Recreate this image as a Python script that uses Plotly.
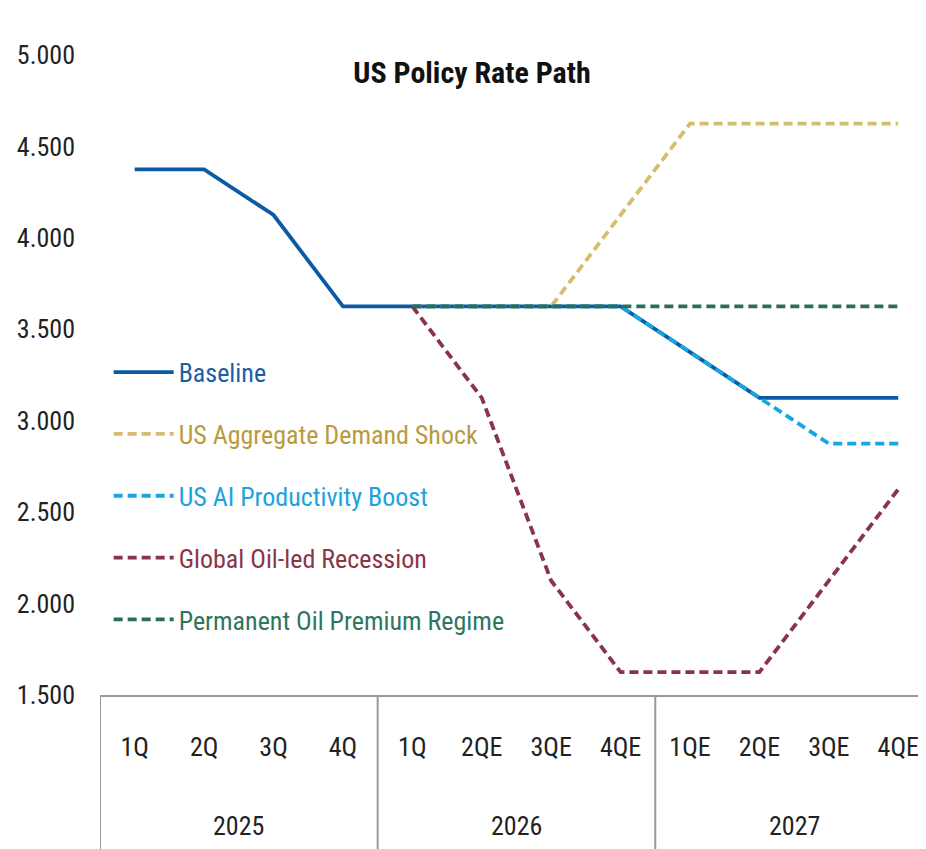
import plotly.graph_objects as go

years = ["2025"] * 4 + ["2026"] * 4 + ["2027"] * 4
quarters = ["1Q", "2Q", "3Q", "4Q", "1Q", "2QE", "3QE", "4QE", "1QE", "2QE", "3QE", "4QE"]

baseline = [4.375, 4.375, 4.125, 3.625, 3.625, 3.625, 3.625, 3.625, 3.375, 3.125, 3.125, 3.125]
demand_shock = [None, None, None, None, 3.625, 3.625, 3.625, 4.125, 4.625, 4.625, 4.625, 4.625]
ai_boost = [None, None, None, None, 3.625, 3.625, 3.625, 3.625, 3.375, 3.125, 2.875, 2.875]
oil_recession = [None, None, None, None, 3.625, 3.125, 2.125, 1.625, 1.625, 1.625, 2.125, 2.625]
oil_premium = [None, None, None, None, 3.625, 3.625, 3.625, 3.625, 3.625, 3.625, 3.625, 3.625]

series = [
    ("Baseline", baseline, "#0b5aa6", "#1a5ea8", "solid"),
    ("US Aggregate Demand Shock", demand_shock, "#d6bd6e", "#b99a3e", "9px,5px"),
    ("US AI Productivity Boost", ai_boost, "#16a6e2", "#1ba3de", "9px,5px"),
    ("Global Oil-led Recession", oil_recession, "#8a3448", "#8b3548", "9px,5px"),
    ("Permanent Oil Premium Regime", oil_premium, "#2a6e5a", "#2e7561", "9px,5px"),
]

FONT = "Roboto Condensed, Roboto, sans-serif"
xidx = list(range(len(quarters)))

fig = go.Figure()
for i, (name, vals, color, tcolor, dash) in enumerate(series):
    fig.add_trace(go.Scatter(
        x=xidx, y=vals, mode="lines",
        name=f"<span style='color:{tcolor}'>{name}</span>",
        legendgroup=f"g{i}",
        line=dict(color=color, width=3.8, dash=dash),
    ))

# year group labels and dividers, derived from the year list
groups = []
for i, y in enumerate(years):
    if not groups or groups[-1][0] != y:
        groups.append([y, i, i])
    else:
        groups[-1][2] = i

shapes = []
for y, a, b in groups:
    fig.add_annotation(x=(a + b) / 2, y=-0.205, xref="x", yref="paper",
                       text=y, showarrow=False, yanchor="middle",
                       font=dict(family=FONT, size=26, color="#222222"))
    shapes.append(dict(type="line", xref="x", yref="paper", x0=a - 0.5, x1=a - 0.5,
                       y0=0, y1=-0.25, line=dict(color="#999999", width=2)))
shapes.append(dict(type="line", xref="x", yref="paper", x0=groups[-1][2] + 0.5,
                   x1=groups[-1][2] + 0.5, y0=0, y1=-0.25,
                   line=dict(color="#999999", width=2)))

fig.update_layout(
    width=918, height=841,
    margin=dict(l=92, r=0, t=47, b=154),
    paper_bgcolor="white", plot_bgcolor="white",
    font=dict(family=FONT, size=26, color="#222222"),
    title=dict(text="<b>US Policy Rate Path</b>", x=(472 - 8) / 918, xanchor="center",
               y=1 - 64 / 841, yanchor="middle",
               font=dict(family=FONT, size=30, color="#111111")),
    showlegend=True,
    legend=dict(x=0.0105, y=0.541, xanchor="left", yanchor="top",
                bgcolor="rgba(0,0,0,0)", tracegroupgap=25, itemwidth=60,
                font=dict(family=FONT, size=26)),
    shapes=shapes,
    xaxis=dict(range=[-0.5, 11.4], tickvals=xidx, ticktext=quarters,
               showline=True, linecolor="#999999", linewidth=2,
               showgrid=False, zeroline=False, ticks="",
               ticklabelstandoff=28,
               tickfont=dict(family=FONT, size=26, color="#222222")),
    yaxis=dict(range=[1.5, 5.0], dtick=0.5, tickformat=".3f",
               showgrid=False, zeroline=False, showline=False, ticks="",
               ticklabelstandoff=24,
               tickfont=dict(family=FONT, size=26, color="#222222")),
)

fig.write_html("out.html")
